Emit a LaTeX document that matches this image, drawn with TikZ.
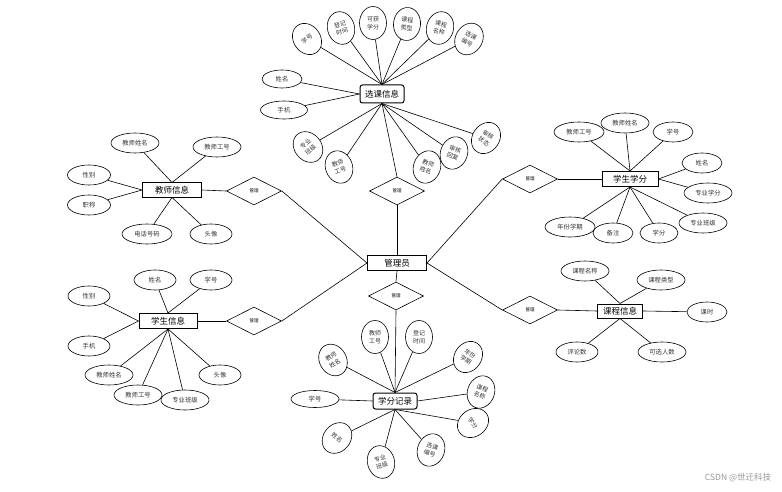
\documentclass[tikz,border=0pt]{standalone}
\usepackage{fontspec}
\setmainfont{Noto Sans CJK SC}
\usetikzlibrary{shapes.geometric}
\pgfdeclarelayer{bg}
\pgfsetlayers{bg,main}
\begin{document}
\begin{tikzpicture}[x=1pt,y=-1pt,
 ent/.style={draw, fill=white, line width=1pt, rectangle, inner sep=0pt, font=\fontsize{8.5}{9}\selectfont},
 rent/.style={ent, rounded corners=2.5pt},
 rel/.style={draw, fill=white, diamond, line width=0.6pt, inner sep=0pt, minimum width=55pt, minimum height=28pt, font=\fontsize{4.5}{5}\selectfont},
 ha/.style={draw, fill=white, ellipse, line width=0.6pt, inner sep=0pt, minimum height=20pt, font=\fontsize{6.3}{7}\selectfont, text=black!80},
 va/.style={draw, fill=white, ellipse, line width=0.6pt, inner sep=0pt, minimum width=27pt, minimum height=33pt, align=center, font=\fontsize{6}{7.6}\selectfont, text=black!80},
 ln/.style={line width=0.6pt}]
\begin{pgfonlayer}{bg}
\useasboundingbox[fill=white] (0,0) rectangle (782,492);
\end{pgfonlayer}

% entities
\node[rent, minimum width=44pt, minimum height=18pt] (xk) at (382,94) {选课信息};
\node[ent, minimum width=59pt, minimum height=15pt] (gly) at (397,263) {管理员};
\node[ent, minimum width=59pt, minimum height=14pt] (js) at (172,190) {教师信息};
\node[ent, minimum width=56pt, minimum height=15pt] (xf) at (630,179) {学生学分};
\node[ent, minimum width=58pt, minimum height=15pt] (xs) at (168,321) {学生信息};
\node[ent, minimum width=45pt, minimum height=14pt] (kc) at (620,311) {课程信息};
\node[rent, minimum width=44pt, minimum height=16pt] (jl) at (395,401) {学分记录};

% relations
\node[rel] (d1) at (397,191) {管理};
\node[rel] (d2) at (396,296) {管理};
\node[rel] (d3) at (254,191) {管理};
\node[rel] (d4) at (254,321) {管理};
\node[rel] (d5) at (530,179) {管理};
\node[rel] (d6) at (530,310) {管理};

% 选课信息 attributes
\node[va, rotate=35] (a1) at (307,39) {学号};
\node[va, rotate=15] (a2) at (341,28) {登记\\时间};
\node[va] (a3) at (373,23) {可获\\学分};
\node[va, rotate=-5] (a4) at (407,24) {课程\\类型};
\node[va, rotate=-15] (a5) at (440,28) {课程\\名称};
\node[va, rotate=-30] (a6) at (469,39) {选课\\编号};
\node[ha, minimum width=40pt, minimum height=18pt] (a7) at (282,79) {姓名};
\node[ha, minimum width=47pt, minimum height=18pt] (a8) at (284,110) {手机};
\node[va, rotate=40] (a9) at (308,147) {专业\\班级};
\node[va, rotate=20] (a10) at (339,167) {教师\\工号};
\node[va, rotate=-20] (a11) at (427,167) {教师\\姓名};
\node[va, rotate=-20] (a12) at (454,153) {审核\\回复};
\node[va, rotate=-35] (a13) at (486,138) {审核\\状态};

% 教师信息 attributes
\node[ha, minimum width=48pt] (b1) at (135,143) {教师姓名};
\node[ha, minimum width=48pt] (b2) at (217,147) {教师工号};
\node[ha, minimum width=43pt] (b3) at (89,175) {性别};
\node[ha, minimum width=43pt] (b4) at (89,205) {职称};
\node[ha, minimum width=50pt] (b5) at (147,234) {电话号码};
\node[ha, minimum width=42pt] (b6) at (211,234) {头像};

% 学生学分 attributes
\node[ha, minimum width=50pt] (c1) at (579,132) {教师工号};
\node[ha, minimum width=48pt] (c2) at (625,123) {教师姓名};
\node[ha, minimum width=40pt] (c3) at (673,132) {学号};
\node[ha, minimum width=40pt] (c4) at (702,163) {姓名};
\node[ha, minimum width=48pt] (c5) at (708,193) {专业学分};
\node[ha, minimum width=48pt] (c6) at (703,223) {专业班级};
\node[ha, minimum width=38pt] (c7) at (659,233) {学分};
\node[ha, minimum width=40pt] (c8) at (613,233) {备注};
\node[ha, minimum width=50pt] (c9) at (570,227) {年份学期};

% 学生信息 attributes
\node[ha, minimum width=42pt] (e1) at (155,280) {姓名};
\node[ha, minimum width=42pt] (e2) at (211,280) {学号};
\node[ha, minimum width=42pt] (e3) at (89,296) {性别};
\node[ha, minimum width=42pt] (e4) at (89,346) {手机};
\node[ha, minimum width=48pt] (e5) at (109,375) {教师姓名};
\node[ha, minimum width=48pt] (e6) at (138,395) {教师工号};
\node[ha, minimum width=48pt] (e7) at (185,400) {专业班级};
\node[ha, minimum width=42pt] (e8) at (220,375) {头像};

% 课程信息 attributes
\node[ha, minimum width=48pt] (f1) at (585,271) {课程名称};
\node[ha, minimum width=48pt] (f2) at (661,280) {课程类型};
\node[ha, minimum width=40pt] (f3) at (707,312) {课时};
\node[ha, minimum width=48pt] (f4) at (662,352) {可选人数};
\node[ha, minimum width=42pt] (f5) at (577,352) {评论数};

% 学分记录 attributes
\node[va, rotate=30] (g1) at (333,360) {教师\\姓名};
\node[va] (g2) at (375,337) {教师\\工号};
\node[va] (g3) at (419,337) {登记\\时间};
\node[va, rotate=-35] (g4) at (468,357) {年份\\学期};
\node[va, rotate=-20] (g5) at (481,392) {课程\\名称};
\node[ha, minimum width=48pt, minimum height=17pt] (g6) at (315,399) {学号};
\node[va, rotate=-55] (g7) at (473,423) {学分};
\node[va, rotate=-40] (g8) at (337,438) {姓名};
\node[va, rotate=15] (g9) at (381,462) {专业\\班级};
\node[va, rotate=-20] (g10) at (431,450) {选课\\编号};

% watermark
\node[text=black!40, font=\fontsize{8.5}{9}\selectfont] (wm) at (738,478) {CSDN @世迁科技};

\begin{pgfonlayer}{bg}
\draw[ln] (xk.south) -- (d1.north);
\draw[ln] (d1.south) -- (gly.north);
\draw[ln] (gly.south) -- (d2.north);
\draw[ln] (d2.south) -- (jl.north);
\draw[ln] (js.east) -- (d3.west);
\draw[ln] (d3.east) -- (gly.west);
\draw[ln] (xs.east) -- (d4.west);
\draw[ln] (d4.east) -- (gly.west);
\draw[ln] (d5.east) -- (xf.west);
\draw[ln] (d5.west) -- (gly.east);
\draw[ln] (d6.east) -- (kc.west);
\draw[ln] (d6.west) -- (gly.east);
\foreach \n in {a1,a2,a3,a4,a5,a6} \draw[ln] (xk.north) -- (\n);
\foreach \n in {a7,a8} \draw[ln] (xk.west) -- (\n);
\foreach \n in {a9,a10,a11,a12,a13} \draw[ln] (xk.south) -- (\n);
\foreach \n in {b1,b2} \draw[ln] (js.north) -- (\n);
\foreach \n in {b3,b4} \draw[ln] (js.west) -- (\n);
\foreach \n in {b5,b6} \draw[ln] (js.south) -- (\n);
\foreach \n in {c1,c2,c3} \draw[ln] (xf.north) -- (\n);
\foreach \n in {c4,c5} \draw[ln] (xf.east) -- (\n);
\foreach \n in {c6,c7,c8,c9} \draw[ln] (xf.south) -- (\n);
\foreach \n in {e1,e2} \draw[ln] (xs.north) -- (\n);
\foreach \n in {e3,e4} \draw[ln] (xs.west) -- (\n);
\foreach \n in {e5,e6,e7,e8} \draw[ln] (xs.south) -- (\n);
\foreach \n in {f1,f2} \draw[ln] (kc.north) -- (\n);
\draw[ln] (kc.east) -- (f3);
\foreach \n in {f4,f5} \draw[ln] (kc.south) -- (\n);
\foreach \n in {g1,g2,g3,g4} \draw[ln] (jl.north) -- (\n);
\draw[ln] (jl.east) -- (g5);
\draw[ln] (jl.west) -- (g6);
\foreach \n in {g7,g8,g9,g10} \draw[ln] (jl.south) -- (\n);
\end{pgfonlayer}
\end{tikzpicture}
\end{document}
